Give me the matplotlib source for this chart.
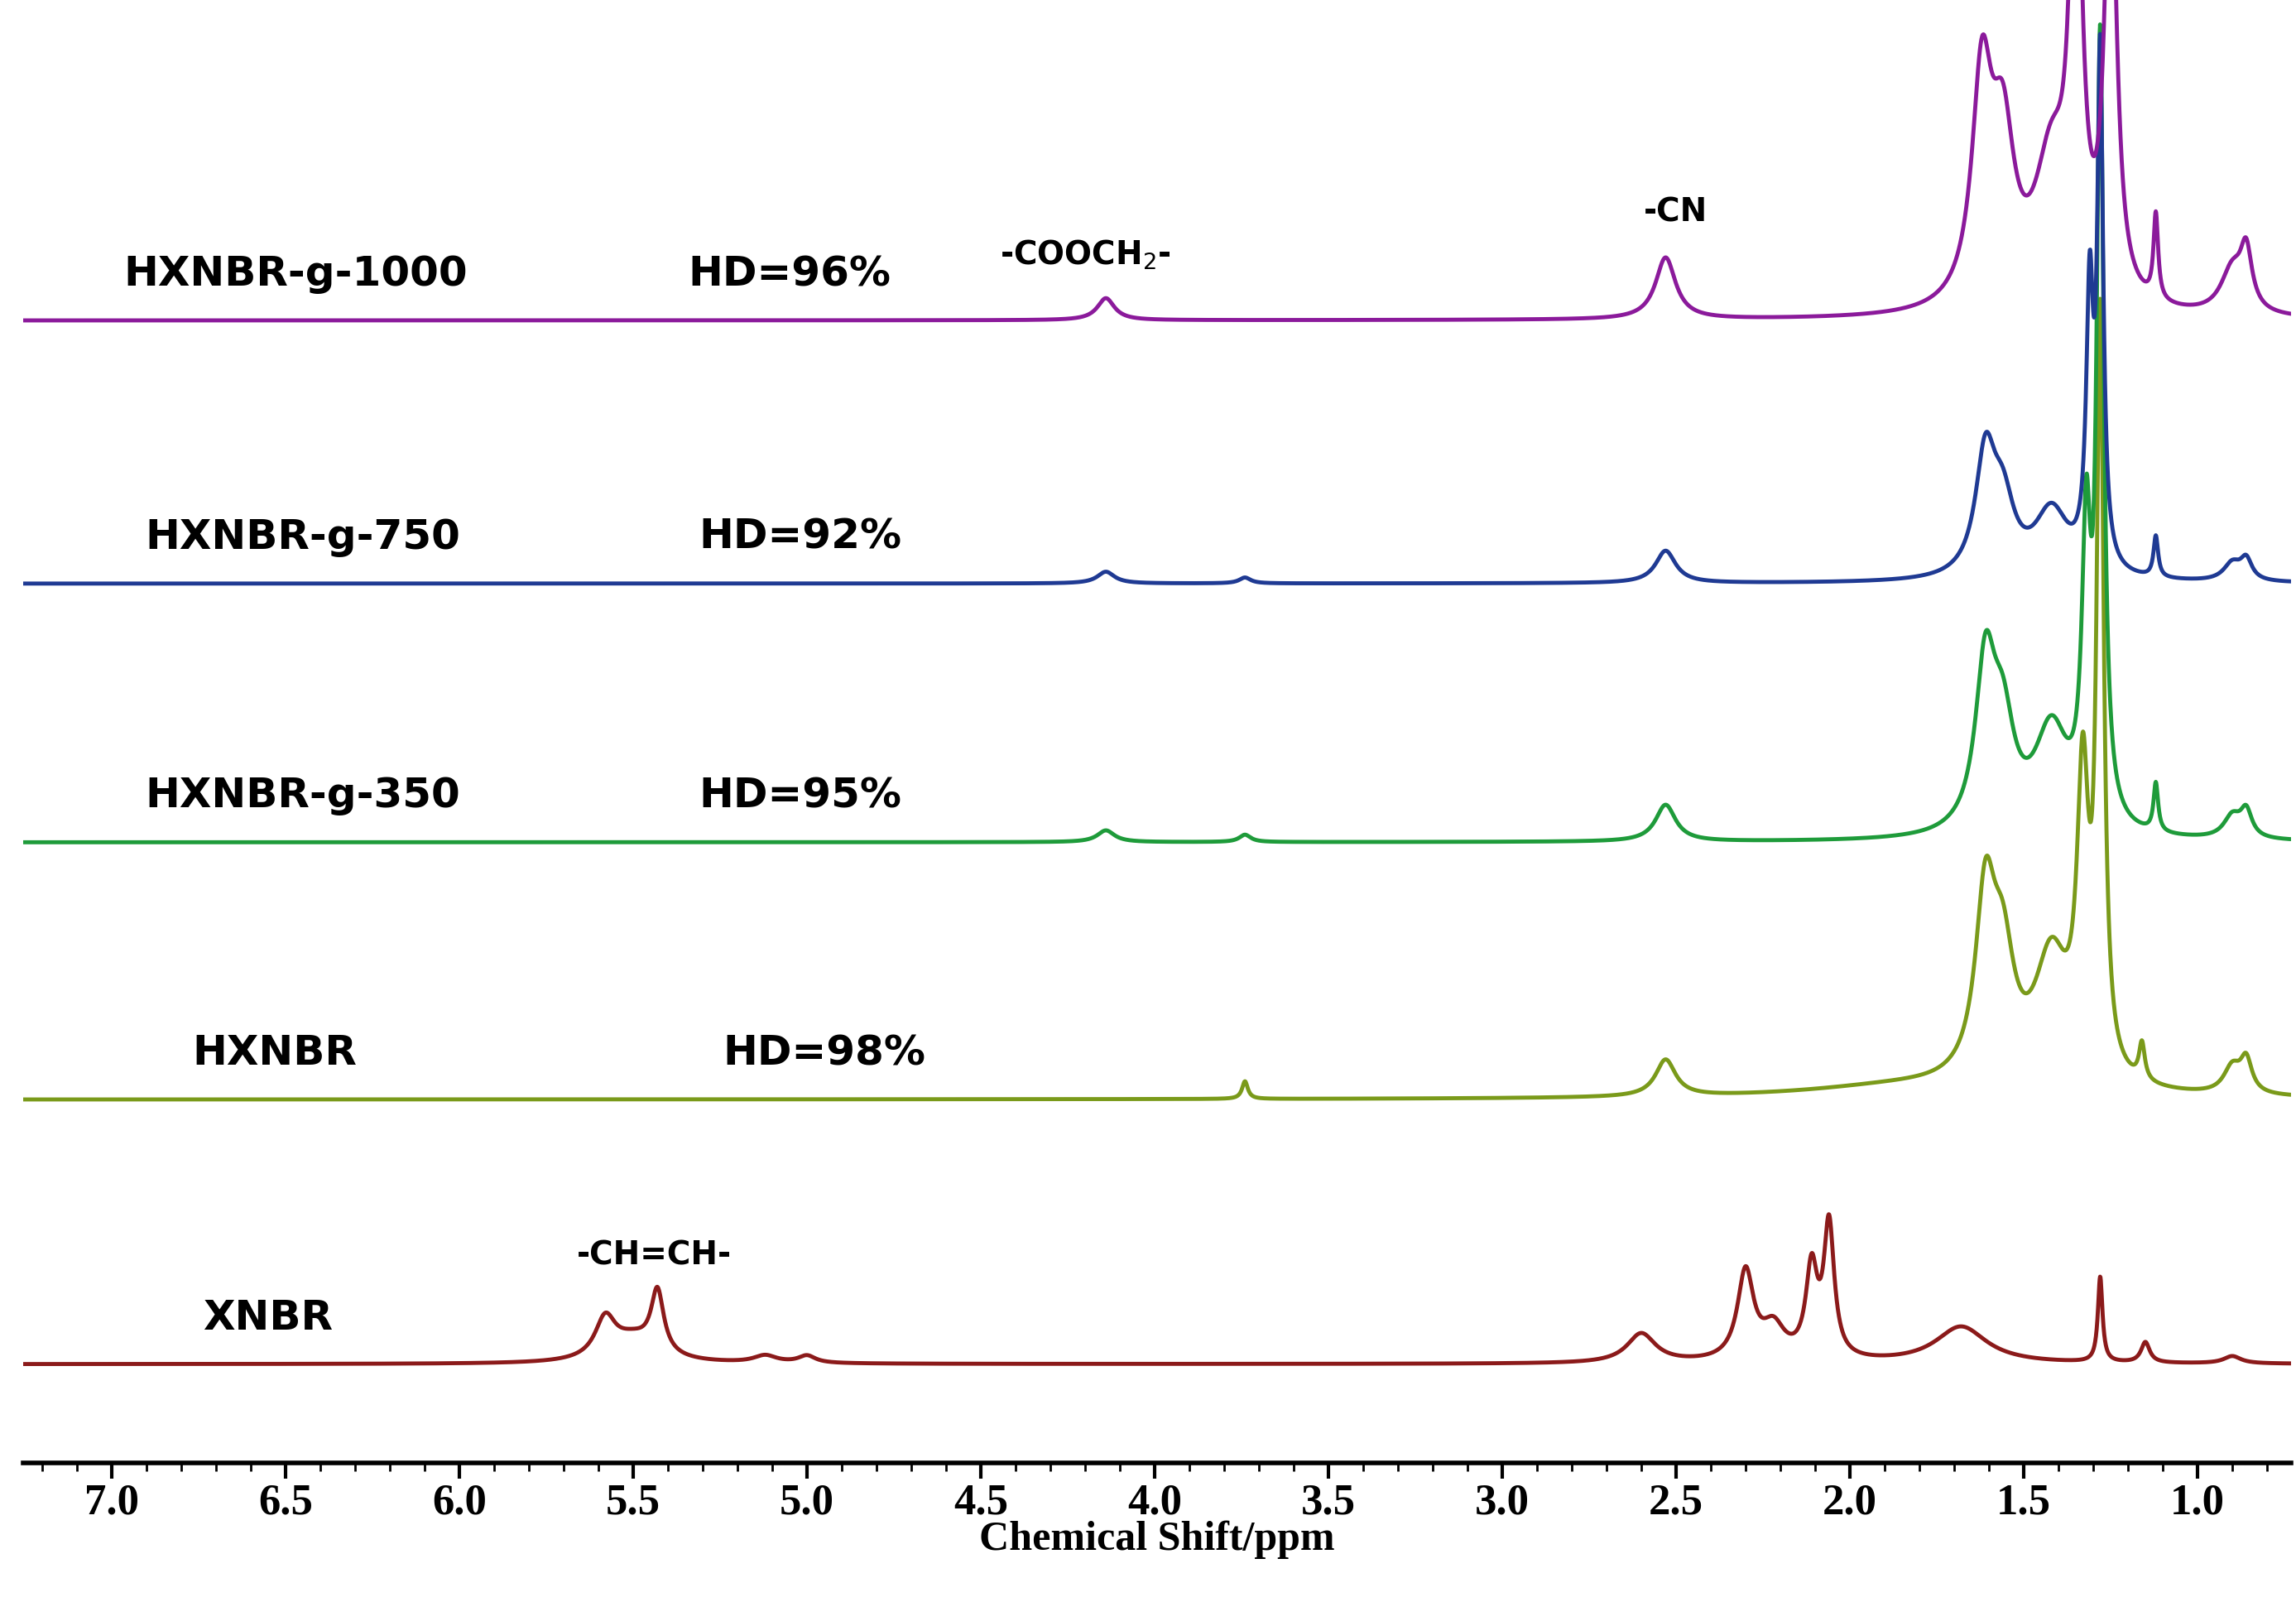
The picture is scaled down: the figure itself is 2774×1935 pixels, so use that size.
import numpy as np
import matplotlib.pyplot as plt
from matplotlib.ticker import MultipleLocator

# peak lists: (position ppm, height, half-width ppm)
xnbr_peaks = [(5.58, 26, 0.035), (5.43, 42, 0.022), (5.50, 16, 0.08), (5.12, 5, 0.04), (5.0, 5, 0.03),
              (2.60, 20, 0.05), (2.30, 60, 0.028), (2.22, 22, 0.04), (2.11, 60, 0.02), (2.06, 90, 0.018),
              (1.68, 25, 0.09), (1.28, 58, 0.008), (1.15, 14, 0.015), (0.90, 5, 0.03)]
hxnbr_peaks = [(3.74, 12, 0.01), (2.53, 25, 0.035), (1.85, 8, 0.35), (1.61, 120, 0.035), (1.56, 75, 0.04),
               (1.42, 85, 0.06), (1.33, 190, 0.02), (1.28, 500, 0.012), (1.16, 25, 0.01),
               (0.90, 18, 0.03), (0.86, 22, 0.02)]
g350_peaks = [(4.14, 8, 0.03), (3.74, 5, 0.02), (2.53, 25, 0.035), (1.61, 110, 0.035), (1.56, 65, 0.04),
              (1.42, 70, 0.06), (1.32, 185, 0.015), (1.28, 520, 0.012), (1.12, 33, 0.008),
              (0.90, 15, 0.03), (0.86, 18, 0.02)]
g750_peaks = [(4.14, 8, 0.03), (3.74, 4, 0.02), (2.53, 22, 0.035), (1.61, 80, 0.035), (1.56, 45, 0.04),
              (1.42, 45, 0.06), (1.31, 180, 0.012), (1.28, 340, 0.01), (1.12, 28, 0.008),
              (0.90, 12, 0.03), (0.86, 14, 0.02)]
g1000_peaks = [(4.14, 15, 0.03), (2.53, 42, 0.035), (1.62, 150, 0.035), (1.56, 105, 0.04), (1.42, 95, 0.06),
               (1.35, 320, 0.02), (1.25, 320, 0.02), (1.12, 58, 0.008), (0.90, 30, 0.04), (0.86, 38, 0.02)]

names = ["XNBR", "HXNBR", "HXNBR-g-350", "HXNBR-g-750", "HXNBR-g-1000"]
hd_labels = ["", "HD=98%", "HD=95%", "HD=92%", "HD=96%"]
offsets = [67, 247, 422, 598, 777]
colors = ["#8B1A1A", "#7A9A1A", "#1E9B3A", "#1F3A93", "#8B1A9B"]
peak_sets = [xnbr_peaks, hxnbr_peaks, g350_peaks, g750_peaks, g1000_peaks]
name_x = [6.55, 6.53, 6.45, 6.45, 6.47]
hd_x = [None, 4.95, 5.02, 5.02, 5.05]

x = np.linspace(7.26, 0.72, 6000)

fig = plt.figure(figsize=(27.74, 19.35), dpi=100)
ax = fig.add_axes([0.01, 0.087, 0.988, 0.913])

for name, hd, off, c, peaks, nx, hx in zip(names, hd_labels, offsets, colors, peak_sets, name_x, hd_x):
    y = np.zeros_like(x)
    for p, h, w in peaks:
        y += h * w**2 / ((x - p)**2 + w**2)
    ax.plot(x, y + off, color=c, lw=3.5)
    ax.text(nx, off + 18, name, fontsize=36, fontweight="bold", ha="center", va="bottom")
    if hd:
        ax.text(hx, off + 18, hd, fontsize=36, fontweight="bold", ha="center", va="bottom")

ax.text(5.44, 130, "-CH=CH-", fontsize=28, fontweight="bold", ha="center", va="bottom")
ax.text(4.2, 810, "-COOCH$_2$-", fontsize=28, fontweight="bold", ha="center", va="bottom")
ax.text(2.50, 840, "-CN", fontsize=28, fontweight="bold", ha="center", va="bottom")

ax.set_xlim(7.255, 0.73)
ax.set_ylim(0, 995)
for s in ["top", "left", "right"]:
    ax.spines[s].set_visible(False)
ax.spines["bottom"].set_linewidth(4)
ax.set_yticks([])
ax.xaxis.set_major_locator(MultipleLocator(0.5))
ax.xaxis.set_minor_locator(MultipleLocator(0.1))
ax.tick_params(axis="x", which="major", length=14, width=3, labelsize=38, direction="out", pad=4)
ax.tick_params(axis="x", which="minor", length=7, width=2, direction="out")
for lab in ax.get_xticklabels():
    lab.set_family("Liberation Serif")
    lab.set_fontweight("bold")
ax.set_xlabel("Chemical Shift/ppm", fontsize=36, fontweight="bold", family="Liberation Serif", labelpad=-2)

fig.savefig("out.png", dpi=100)
